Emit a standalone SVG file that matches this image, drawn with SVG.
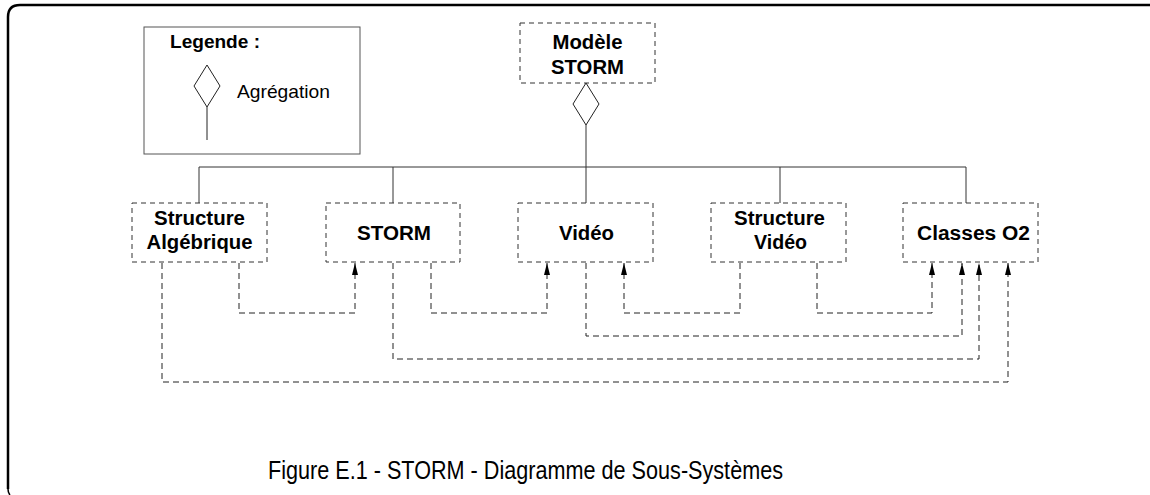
<svg xmlns="http://www.w3.org/2000/svg" width="1150" height="495" viewBox="0 0 1150 495">
<style>
.box{fill:#fff;stroke:#333;stroke-width:1;stroke-dasharray:5,4}
.solid{fill:none;stroke:#333;stroke-width:1}
.dep{fill:none;stroke:#222;stroke-width:1;stroke-dasharray:6,4}
.lbl{font-family:"Liberation Sans",Arial,sans-serif;font-weight:bold;font-size:19.5px;fill:#000;text-anchor:middle}
.reg{font-family:"Liberation Sans",Arial,sans-serif;font-size:18.5px;fill:#000}
.cap{font-family:"Liberation Sans",Arial,sans-serif;font-size:26px;fill:#000}
</style>
<defs>
<marker id="arr" viewBox="0 0 12 6" refX="12" refY="3" markerWidth="12" markerHeight="6" markerUnits="userSpaceOnUse" orient="auto">
<path d="M0,0 L12,3 L0,6 Z" fill="#000"/>
</marker>
</defs>
<rect width="1150" height="495" fill="#fff"/>
<g id="frame">
<path d="M8,489 L8,17 Q8,5 20,5 L1150,5" fill="none" stroke="#000" stroke-width="2.5"/>
<path d="M8,489 Q8,493 10,495" fill="none" stroke="#000" stroke-width="1.5"/>
</g>
<g id="legend">
<rect x="144" y="27" width="216" height="127" fill="#fff" stroke="#555" stroke-width="1"/>
<text class="reg" x="170" y="48" font-weight="bold" textLength="90" lengthAdjust="spacingAndGlyphs">Legende :</text>
<polygon points="207,65 220,86 207,107 194,86" fill="#fff" stroke="#222" stroke-width="1"/>
<line x1="207" y1="107" x2="207" y2="140" stroke="#222" stroke-width="1"/>
<text class="reg" x="237" y="98" textLength="93" lengthAdjust="spacingAndGlyphs">Agrégation</text>
</g>
<g id="connectors">
<polygon points="586,83 599,104 586,125 573,104" fill="#fff" stroke="#222" stroke-width="1"/>
<line class="solid" x1="586" y1="125" x2="586" y2="203"/>
<line class="solid" x1="199" y1="167" x2="966" y2="167"/>
<line class="solid" x1="199" y1="167" x2="199" y2="203"/>
<line class="solid" x1="393" y1="167" x2="393" y2="203"/>
<line class="solid" x1="780" y1="167" x2="780" y2="203"/>
<line class="solid" x1="966" y1="167" x2="966" y2="203"/>
<polyline class="dep" points="239,263 239,313 355,313 355,263" marker-end="url(#arr)"/>
<polyline class="dep" points="431,263 431,313 547,313 547,263" marker-end="url(#arr)"/>
<polyline class="dep" points="740,263 740,313 624,313 624,263" marker-end="url(#arr)"/>
<polyline class="dep" points="817,263 817,313 932,313 932,263" marker-end="url(#arr)"/>
<polyline class="dep" points="586,263 586,336 962,336 962,263" marker-end="url(#arr)"/>
<polyline class="dep" points="393,263 393,359 979,359 979,263" marker-end="url(#arr)"/>
<polyline class="dep" points="162,263 162,382 1008,382 1008,263" marker-end="url(#arr)"/>
</g>
<g id="modele-storm">
<rect class="box" x="520" y="23" width="135" height="60"/>
<text class="lbl" x="587.5" y="49" textLength="70" lengthAdjust="spacingAndGlyphs">Modèle</text>
<text class="lbl" x="587.5" y="74" textLength="73" lengthAdjust="spacingAndGlyphs">STORM</text>
</g>
<g id="structure-algebrique">
<rect class="box" x="132" y="203" width="135" height="59"/>
<text class="lbl" x="199.5" y="225" textLength="91" lengthAdjust="spacingAndGlyphs">Structure</text>
<text class="lbl" x="199.5" y="249" textLength="106" lengthAdjust="spacingAndGlyphs">Algébrique</text>
</g>
<g id="storm">
<rect class="box" x="326" y="203" width="134" height="59"/>
<text class="lbl" x="394" y="240" textLength="74" lengthAdjust="spacingAndGlyphs">STORM</text>
</g>
<g id="video">
<rect class="box" x="518" y="203" width="135" height="59"/>
<text class="lbl" x="586.5" y="240" textLength="55" lengthAdjust="spacingAndGlyphs">Vidéo</text>
</g>
<g id="structure-video">
<rect class="box" x="711" y="203" width="135" height="59"/>
<text class="lbl" x="779.5" y="225" textLength="91" lengthAdjust="spacingAndGlyphs">Structure</text>
<text class="lbl" x="780.5" y="249" textLength="53" lengthAdjust="spacingAndGlyphs">Vidéo</text>
</g>
<g id="classes-o2">
<rect class="box" x="903" y="203" width="135" height="59"/>
<text class="lbl" x="973.5" y="240" textLength="113" lengthAdjust="spacingAndGlyphs">Classes O2</text>
</g>
<g id="caption">
<text class="cap" x="268" y="479" textLength="515" lengthAdjust="spacingAndGlyphs">Figure E.1 - STORM - Diagramme de Sous-Systèmes</text>
</g>
</svg>
